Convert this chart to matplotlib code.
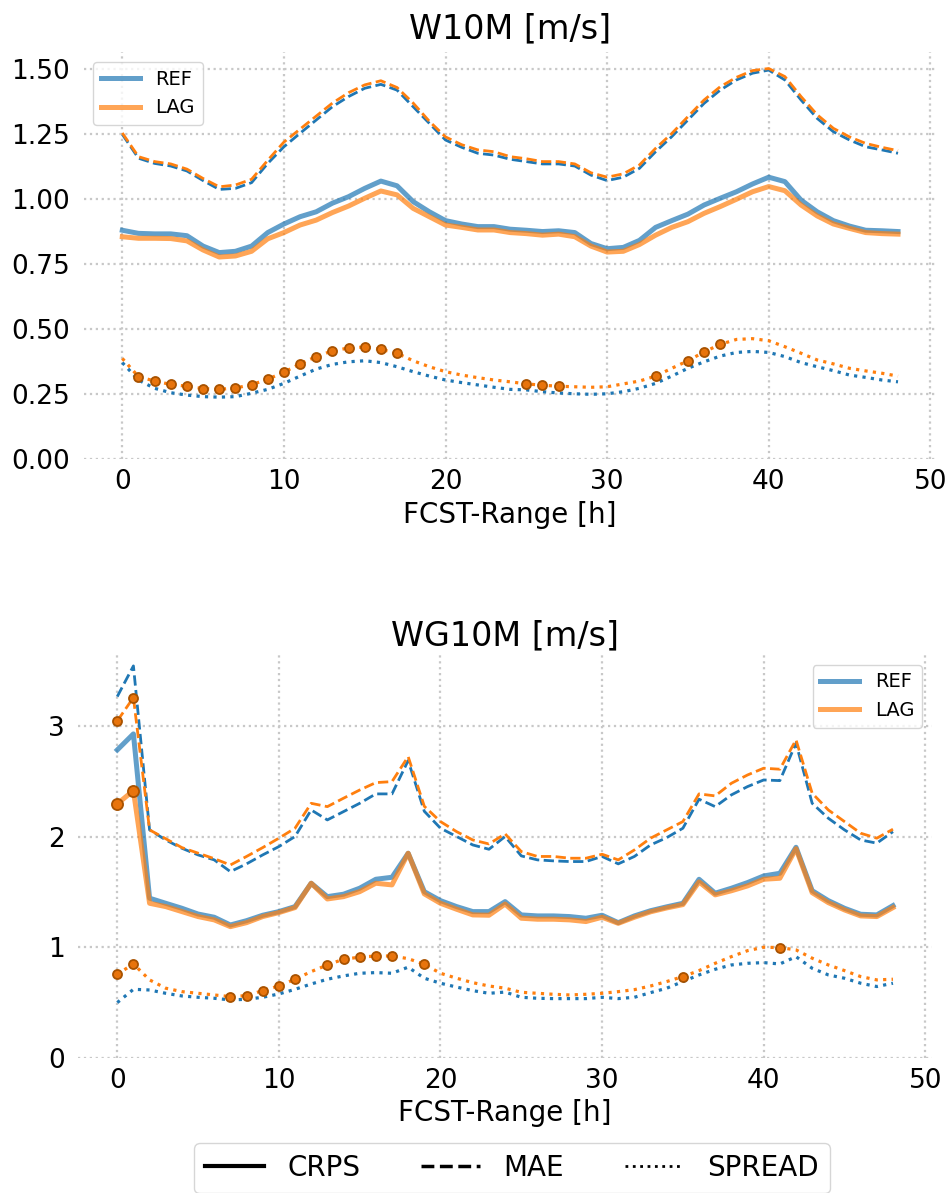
import matplotlib
matplotlib.use("Agg")
import matplotlib.pyplot as plt
from matplotlib.lines import Line2D

hours = list(range(49))

# W10M
w10m_crps_ref = [0.881, 0.869, 0.867, 0.867, 0.860, 0.820, 0.795, 0.800, 0.820, 0.872,
                 0.905, 0.933, 0.952, 0.985, 1.010, 1.042, 1.070, 1.052, 0.991, 0.952,
                 0.918, 0.905, 0.895, 0.895, 0.885, 0.881, 0.876, 0.879, 0.872, 0.830,
                 0.810, 0.815, 0.842, 0.892, 0.918, 0.943, 0.978, 1.004, 1.029, 1.059,
                 1.085, 1.068, 0.997, 0.952, 0.918, 0.897, 0.881, 0.879, 0.876]
w10m_crps_lag = [0.856, 0.850, 0.850, 0.849, 0.840, 0.805, 0.778, 0.782, 0.800, 0.848,
                 0.872, 0.901, 0.920, 0.949, 0.974, 1.004, 1.032, 1.017, 0.965, 0.933,
                 0.901, 0.892, 0.882, 0.882, 0.872, 0.868, 0.862, 0.866, 0.856, 0.820,
                 0.797, 0.800, 0.826, 0.862, 0.892, 0.914, 0.946, 0.972, 1.000, 1.029,
                 1.049, 1.033, 0.978, 0.936, 0.905, 0.888, 0.872, 0.868, 0.866]
w10m_mae_ref = [1.250, 1.158, 1.138, 1.128, 1.109, 1.072, 1.038, 1.042, 1.064, 1.138,
                1.202, 1.254, 1.305, 1.356, 1.395, 1.427, 1.442, 1.420, 1.356, 1.292,
                1.228, 1.200, 1.177, 1.170, 1.154, 1.145, 1.136, 1.136, 1.128, 1.093,
                1.072, 1.085, 1.119, 1.183, 1.241, 1.305, 1.369, 1.420, 1.459, 1.485,
                1.497, 1.459, 1.382, 1.311, 1.260, 1.228, 1.202, 1.190, 1.177]
w10m_mae_lag = [1.255, 1.164, 1.145, 1.136, 1.116, 1.080, 1.048, 1.055, 1.077, 1.150,
                1.220, 1.270, 1.320, 1.370, 1.410, 1.440, 1.456, 1.430, 1.370, 1.300,
                1.240, 1.210, 1.190, 1.183, 1.164, 1.156, 1.145, 1.145, 1.136, 1.102,
                1.085, 1.098, 1.132, 1.196, 1.253, 1.318, 1.382, 1.433, 1.469, 1.495,
                1.503, 1.472, 1.395, 1.325, 1.273, 1.240, 1.215, 1.200, 1.187]
w10m_spread_ref = [0.372, 0.305, 0.273, 0.256, 0.247, 0.241, 0.239, 0.241, 0.254, 0.269,
                   0.292, 0.320, 0.347, 0.365, 0.375, 0.379, 0.372, 0.356, 0.337, 0.320,
                   0.305, 0.295, 0.286, 0.277, 0.269, 0.267, 0.260, 0.255, 0.252, 0.250,
                   0.252, 0.260, 0.273, 0.292, 0.320, 0.350, 0.375, 0.397, 0.411, 0.415,
                   0.411, 0.395, 0.372, 0.356, 0.341, 0.324, 0.315, 0.305, 0.298]
w10m_spread_lag = [0.388, 0.318, 0.301, 0.288, 0.281, 0.272, 0.269, 0.274, 0.287, 0.308,
                   0.335, 0.367, 0.395, 0.417, 0.428, 0.432, 0.423, 0.408, 0.379, 0.356,
                   0.337, 0.324, 0.314, 0.305, 0.298, 0.290, 0.285, 0.281, 0.279, 0.277,
                   0.279, 0.290, 0.301, 0.320, 0.350, 0.379, 0.413, 0.442, 0.461, 0.464,
                   0.456, 0.433, 0.408, 0.382, 0.367, 0.350, 0.340, 0.331, 0.320]
w10m_crps_sig = []
w10m_mae_sig = []
w10m_spread_sig = [1, 2, 3, 4, 5, 6, 7, 8, 9, 10, 11, 12, 13, 14, 15, 16, 17,
                   25, 26, 27, 33, 35, 36, 37]

# WG10M
wg10m_crps_ref = [2.782, 2.927, 1.443, 1.397, 1.352, 1.300, 1.271, 1.201, 1.240, 1.289,
                  1.322, 1.367, 1.578, 1.457, 1.479, 1.533, 1.614, 1.632, 1.849, 1.502,
                  1.421, 1.367, 1.322, 1.322, 1.412, 1.292, 1.283, 1.283, 1.277, 1.262,
                  1.289, 1.222, 1.283, 1.330, 1.365, 1.397, 1.614, 1.488, 1.533, 1.584,
                  1.644, 1.668, 1.903, 1.511, 1.421, 1.352, 1.298, 1.292, 1.376]
wg10m_crps_lag = [2.295, 2.415, 1.397, 1.367, 1.322, 1.277, 1.247, 1.186, 1.222, 1.277,
                  1.313, 1.358, 1.578, 1.436, 1.457, 1.502, 1.578, 1.563, 1.849, 1.482,
                  1.397, 1.343, 1.292, 1.289, 1.390, 1.262, 1.253, 1.253, 1.247, 1.232,
                  1.271, 1.216, 1.271, 1.320, 1.355, 1.385, 1.590, 1.473, 1.510, 1.554,
                  1.614, 1.623, 1.890, 1.493, 1.403, 1.337, 1.283, 1.277, 1.358]
wg10m_mae_ref = [3.264, 3.541, 2.060, 1.969, 1.894, 1.834, 1.789, 1.683, 1.753, 1.834,
                 1.909, 2.000, 2.240, 2.150, 2.225, 2.300, 2.385, 2.385, 2.686, 2.228,
                 2.075, 2.000, 1.924, 1.885, 2.000, 1.825, 1.789, 1.780, 1.774, 1.774,
                 1.820, 1.753, 1.820, 1.924, 1.990, 2.075, 2.337, 2.270, 2.376, 2.451,
                 2.511, 2.505, 2.843, 2.300, 2.165, 2.060, 1.969, 1.940, 2.044]
wg10m_mae_lag = [3.044, 3.255, 2.060, 1.980, 1.900, 1.850, 1.800, 1.743, 1.820, 1.900,
                 1.985, 2.075, 2.300, 2.270, 2.346, 2.420, 2.487, 2.496, 2.722, 2.273,
                 2.135, 2.044, 1.969, 1.933, 2.024, 1.864, 1.820, 1.820, 1.804, 1.804,
                 1.840, 1.789, 1.879, 1.985, 2.060, 2.135, 2.385, 2.367, 2.481, 2.556,
                 2.617, 2.608, 2.873, 2.391, 2.240, 2.135, 2.030, 1.985, 2.066]
wg10m_spread_ref = [0.500, 0.620, 0.614, 0.584, 0.560, 0.548, 0.539, 0.524, 0.530, 0.548,
                    0.578, 0.620, 0.668, 0.711, 0.741, 0.765, 0.771, 0.765, 0.820, 0.720,
                    0.675, 0.640, 0.608, 0.584, 0.595, 0.548, 0.539, 0.536, 0.536, 0.536,
                    0.548, 0.536, 0.548, 0.590, 0.630, 0.690, 0.750, 0.801, 0.840, 0.855,
                    0.861, 0.849, 0.915, 0.810, 0.750, 0.720, 0.675, 0.645, 0.675]
wg10m_spread_lag = [0.756, 0.849, 0.705, 0.630, 0.599, 0.584, 0.569, 0.554, 0.563, 0.608,
                    0.650, 0.711, 0.780, 0.840, 0.892, 0.910, 0.921, 0.921, 0.897, 0.846,
                    0.765, 0.720, 0.680, 0.650, 0.630, 0.593, 0.584, 0.575, 0.569, 0.575,
                    0.584, 0.599, 0.617, 0.650, 0.690, 0.735, 0.789, 0.855, 0.915, 0.969,
                    1.000, 0.997, 0.976, 0.901, 0.840, 0.789, 0.735, 0.705, 0.711]
wg10m_crps_sig = [0, 1]
wg10m_mae_sig = [0, 1]
wg10m_spread_sig = [0, 1, 7, 8, 9, 10, 11, 13, 14, 15, 16, 17, 19, 35, 41]

REF_COLOR = "tab:blue"
LAG_COLOR = "tab:orange"
SIG_FACE = "#e8740c"
SIG_EDGE = "#a85200"


def plot_panel(ax, title, series, ylim, yticks, ytick_labels, legend_loc, title_pad):
    styles = {"crps": ("-", 3.6, 0.7), "mae": ("--", 2.0, 1.0), "spread": (":", 2.3, 1.0)}
    for key, (ref, lag, sig) in series.items():
        ls, lw, alpha = styles[key]
        ax.plot(hours, ref, ls=ls, lw=lw, color=REF_COLOR, alpha=alpha)
        ax.plot(hours, lag, ls=ls, lw=lw, color=LAG_COLOR, alpha=alpha)
        ms = 8 if key == "crps" else 6.5
        ax.plot([hours[i] for i in sig], [lag[i] for i in sig], ls="none", marker="o",
                ms=ms, mfc=SIG_FACE, mec=SIG_EDGE, mew=1.3, zorder=5)
    ax.set_xlim(-2.4, 50.4)
    ax.set_ylim(*ylim)
    ax.set_xticks([0, 10, 20, 30, 40, 50])
    ax.set_yticks(yticks)
    ax.set_yticklabels(ytick_labels)
    ax.grid(True, ls=":", color="#c8c8c8", lw=1.6)
    for side in ["top", "right", "bottom", "left"]:
        ax.spines[side].set_visible(False)
    ax.tick_params(axis="both", length=0, labelsize=19)
    ax.tick_params(axis="y", pad=10)
    ax.tick_params(axis="x", pad=7)
    ax.set_title(title, fontsize=24, pad=title_pad)
    ax.set_xlabel("FCST-Range [h]", fontsize=20)
    handles = [Line2D([], [], color=REF_COLOR, lw=3.6, alpha=0.7),
               Line2D([], [], color=LAG_COLOR, lw=3.6, alpha=0.7)]
    ax.legend(handles, ["REF", "LAG"], loc=legend_loc, fontsize=14)


fig = plt.figure(figsize=(9.5, 11.93), dpi=100)
ax_top = fig.add_axes([0.0879, 0.6150, 0.8982, 0.3413])
ax_bot = fig.add_axes([0.0826, 0.1132, 0.8982, 0.3378])

plot_panel(ax_top, "W10M [m/s]",
           {"crps": (w10m_crps_ref, w10m_crps_lag, w10m_crps_sig),
            "mae": (w10m_mae_ref, w10m_mae_lag, w10m_mae_sig),
            "spread": (w10m_spread_ref, w10m_spread_lag, w10m_spread_sig)},
           (0, 1.566), [0, 0.25, 0.5, 0.75, 1.0, 1.25, 1.5],
           ["0.00", "0.25", "0.50", "0.75", "1.00", "1.25", "1.50"], "upper left", 10)
plot_panel(ax_bot, "WG10M [m/s]",
           {"crps": (wg10m_crps_ref, wg10m_crps_lag, wg10m_crps_sig),
            "mae": (wg10m_mae_ref, wg10m_mae_lag, wg10m_mae_sig),
            "spread": (wg10m_spread_ref, wg10m_spread_lag, wg10m_spread_sig)},
           (0, 3.64), [0, 1, 2, 3], ["0", "1", "2", "3"], "upper right", 7)

metric_handles = [Line2D([], [], color="black", ls="-", lw=3),
                  Line2D([], [], color="black", ls="--", lw=2.5),
                  Line2D([], [], color="black", ls=":", lw=2)]
fig.legend(metric_handles, ["CRPS", "MAE", "SPREAD"], loc="upper center",
           bbox_to_anchor=(0.539, 1 - 1143 / 1193), borderaxespad=0, ncol=3, fontsize=20,
           handlelength=2.1, handletextpad=0.85, columnspacing=2.2)

fig.savefig("out.png", dpi=100)
